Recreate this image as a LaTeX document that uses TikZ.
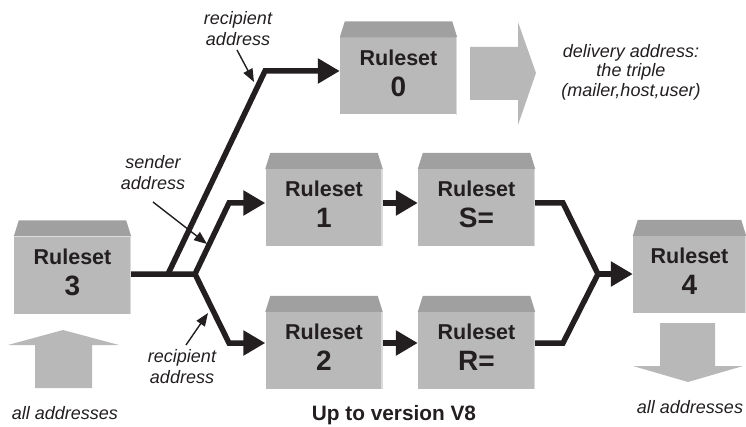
\documentclass[tikz,border=0pt]{standalone}
\usepackage{fontspec}
\setmainfont{Liberation Sans}
\usetikzlibrary{arrows.meta,calc}
\definecolor{frontgray}{HTML}{B9B9B9}
\definecolor{topgray}{HTML}{A0A0A0}
\definecolor{edgegray}{HTML}{DADADA}
\definecolor{arrowgray}{HTML}{B8B8B8}
\definecolor{ink}{HTML}{231F20}
\newcommand\rsnum[1]{Ruleset\\{\fontsize{28}{31}\selectfont #1\rule[-6pt]{0pt}{6pt}}}
\tikzset{
  rbox/.style={fill=frontgray, minimum width=117pt, minimum height=77pt, inner sep=0pt,
    align=center, text=ink, font=\bfseries\fontsize{21.5}{31}\selectfont},
  conn/.style={draw=ink, line width=5.5pt, line join=miter},
  bigtip/.style={-{Triangle[length=22pt,width=24pt]}},
  pointer/.style={draw=ink, line width=1.4pt, -{Triangle[length=13pt,width=10pt]}},
  lbl/.style={align=center, text=ink, font=\itshape\fontsize{18}{21}\selectfont, inner sep=0pt},
  bigarrow/.style={fill=arrowgray}
}
\begin{document}
\begin{tikzpicture}[x=1pt,y=1pt]
\useasboundingbox (0,0) rectangle (746,426);
% boxes
\node[rbox] (r3) at (72.5,151) {\rsnum{3}};
\node[rbox] (r0) at (398.5,350) {\rsnum{0}};
\node[rbox] (r1) at (324,218.5) {\rsnum{1}};
\node[rbox] (rs) at (476.5,218.5) {\rsnum{S=}};
\node[rbox] (r2) at (324,75.5) {\rsnum{2}};
\node[rbox] (rr) at (476.5,75.5) {\rsnum{R=}};
\node[rbox, minimum width=113pt] (r4) at (689.5,151.5) {\rsnum{4}};
\foreach \n in {r3,r0,r1,rs,r2,rr,r4}{
  \fill[topgray] (\n.north west) -- ++(5,16) -- ($(\n.north east)+(-5,16)$) -- (\n.north east) -- cycle;
  \draw[edgegray, line width=1.5pt] ($(\n.north east)+(-0.75,0)$) -- ($(\n.south east)+(-0.75,0)$);
}
% junction coordinates
\coordinate (j0) at (168,152);
\coordinate (t0) at (265,355);
\coordinate (jm) at (195,152);
\coordinate (k1) at (229,223);
\coordinate (k2) at (229,83);
\coordinate (m1) at (563,223);
\coordinate (m2) at (563,83);
\coordinate (jr) at (598,152);
% thick connectors
\draw[conn,bigtip] (r3.east |- jm) -- (jm) -- (k1) -- (k1 -| r1.west);
\draw[conn,bigtip] (jm) -- (k2) -- (k2 -| r2.west);
\draw[conn,bigtip] (j0) -- (t0) -- (t0 -| r0.west);
\draw[conn,bigtip] (r1.east |- k1) -- (rs.west |- k1);
\draw[conn,bigtip] (r2.east |- k2) -- (rr.west |- k2);
\draw[conn] (rs.east |- m1) -- (m1) -- (jr) -- (m2) -- (rr.east |- m2);
\draw[conn,bigtip] (jr) -- (r4.west |- jr);
% labels
\node[lbl] (lrt) at (238,397.5) {recipient\\address};
\node[lbl] (lsd) at (153,253) {sender\\address};
\node[lbl] (lrb) at (182,59) {recipient\\address};
\node[lbl] (lal) at (65,13) {all addresses};
\node[lbl] (lar) at (690,19) {all addresses};
\node[lbl, font=\itshape\fontsize{18}{19.5}\selectfont] (ldl) at (631,354) {delivery address:\\the triple\\(mailer,host,user)};
\node[align=center, text=ink, font=\bfseries\fontsize{20.8}{24}\selectfont, inner sep=0pt] (ver) at (394,11) {Up to version V8};
% pointers
\coordinate (p1s) at (237,376); \coordinate (p1e) at (254,344);
\coordinate (p2s) at (153,224); \coordinate (p2e) at (207,182);
\coordinate (p3s) at (186,81);  \coordinate (p3e) at (208,113);
\draw[pointer] (p1s) -- (p1e);
\draw[pointer] (p2s) -- (p2e);
\draw[pointer] (p3s) -- (p3e);
% big gray arrows
\fill[bigarrow] (470,379) -- (518,379) -- (518,404) -- (536,353) -- (518,301) -- (518,326) -- (470,326) -- cycle;
\fill[bigarrow] (35,38) -- (92,38) -- (92,81) -- (119,81) -- (63,96) -- (8,81) -- (35,81) -- cycle;
\fill[bigarrow] (660,103) -- (715,103) -- (715,60) -- (743,60) -- (688,44) -- (633,60) -- (660,60) -- cycle;
\end{tikzpicture}
\end{document}
